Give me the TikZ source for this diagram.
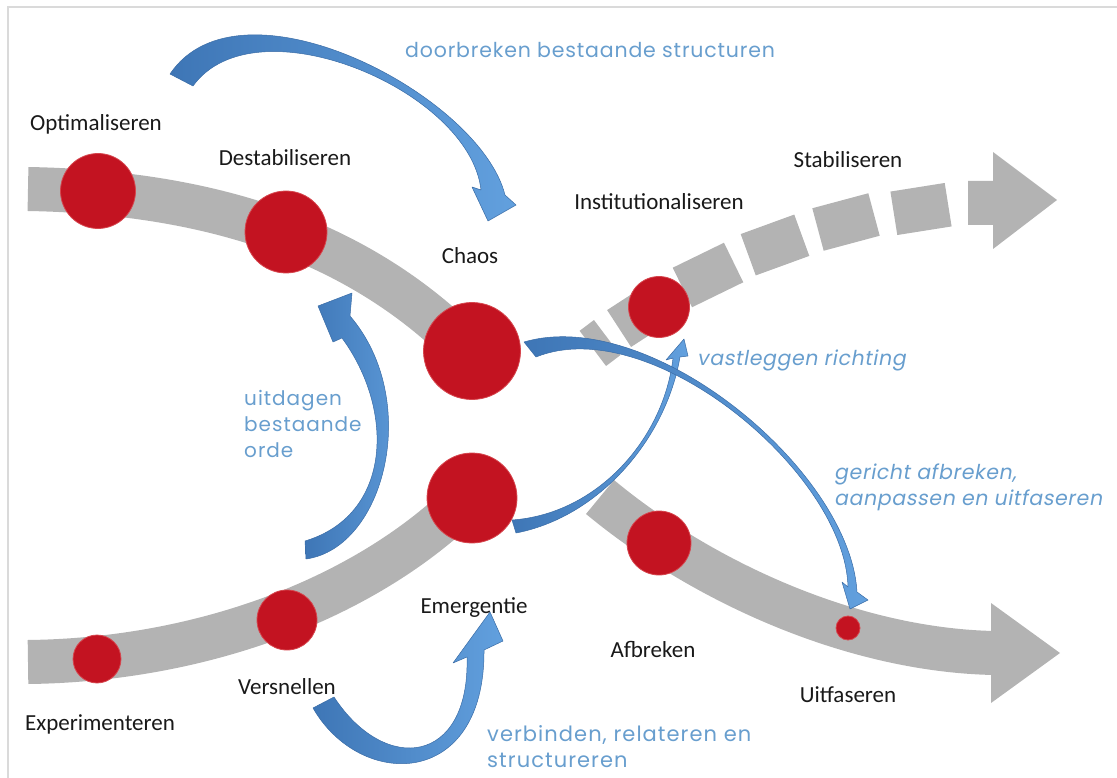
\documentclass[tikz,border=0pt]{standalone}
\usepackage{fontspec}
\setmainfont{Carlito}
\newfontfamily\bluefont{Poppins}[LetterSpace=4]
\newfontfamily\bluefontwide{Poppins}[LetterSpace=5]
\newfontfamily\bluefontsl{Poppins}[LetterSpace=3,FakeSlant=0.18]
\definecolor{bandgray}{RGB}{179,179,179}
\definecolor{dotred}{RGB}{195,19,33}
\definecolor{dotedge}{RGB}{214,70,78}
\definecolor{arrowdark}{RGB}{62,118,182}
\definecolor{arrowlight}{RGB}{98,160,222}
\definecolor{arrowedge}{RGB}{58,108,166}
\definecolor{labelblue}{RGB}{104,158,206}
\definecolor{labelblack}{RGB}{25,25,25}
\definecolor{framegray}{RGB}{218,218,218}

\begin{document}
\begin{tikzpicture}[x=1pt,y=-1pt,
  band/.style={draw=bandgray, line width=44pt},
  piece/.style={fill=bandgray, minimum height=44pt, inner sep=0pt},
  reddot/.style={circle, fill=dotred, draw=dotedge, line width=0.8pt, inner sep=0pt},
  phase/.style={font=\fontsize{23}{28}\selectfont, text=labelblack, inner sep=0pt, anchor=base},
  bluetext/.style={font=\bluefont\fontsize{20.5}{26}\selectfont, text=labelblue, inner sep=0pt, align=left},
  bluetextwide/.style={font=\bluefontwide\fontsize{#1}{26}\selectfont, text=labelblue, inner sep=0pt, align=left},
  bluetextsl/.style={font=\bluefontsl\fontsize{20.5}{26}\selectfont, text=labelblue, inner sep=0pt, align=left},
  bluearrow/.style={draw=arrowedge, line width=0.5pt, line join=round, left color=arrowdark, right color=arrowlight}]

  \useasboundingbox (0,0) rectangle (1117,778);
  \draw[framegray, line width=1.5pt] (8,778) -- (8,7) -- (1117,7);

  \draw[band] (28,189) .. controls (200,192) and (350,235) .. (462,345);
  \draw[band] (28,662) .. controls (200,660) and (360,600) .. (460,505);
  \draw[band] (600,497) .. controls (700,580) and (850,650) .. (994,653);
  \fill[bandgray] (991,603) -- (1060,653) -- (991,703) -- cycle;

  \foreach \px/\py/\ang/\len in {600/343/37/18, 643/313/33/57, 708/275/26/57,
      775/245/20/57, 846/222/15/58, 921/209/9/55}
    \node[piece, minimum width=\len pt, rotate=\ang] (piece\px) at (\px,\py) {};
  \fill[bandgray] (968,181) -- (993,181) -- (993,152) -- (1057,200) -- (993,249)
    -- (993,225) -- (968,225) -- cycle;

  \node[reddot, minimum size=75pt] (optimal) at (98,191) {};
  \node[reddot, minimum size=82pt] (destab) at (286,232) {};
  \node[reddot, minimum size=97pt] (chaos) at (472,351) {};
  \node[reddot, minimum size=90pt] (emerg) at (472,498) {};
  \node[reddot, minimum size=60pt] (versn) at (287,620) {};
  \node[reddot, minimum size=48pt] (exper) at (97,659) {};
  \node[reddot, minimum size=61pt] (instit) at (659,307) {};
  \node[reddot, minimum size=64pt] (afbrk) at (659,543) {};
  \node[reddot, minimum size=24pt] (uitf) at (848,628) {};

  \draw[bluearrow] (193,86) .. controls (255,0) and (470,90) .. (481,190) -- (472,187)
    -- (488,221) -- (516,205) -- (505,195) .. controls (480,95) and (240,-30) .. (170,74) -- cycle;
  \draw[bluearrow] (306,559) .. controls (385,548) and (422,400) .. (350,316) -- (352,293)
    -- (318,306) -- (333,342) -- (342,338) .. controls (395,410) and (392,515) .. (305,541) -- cycle;
  \draw[bluearrow] (313,708) .. controls (360,790) and (485,790) .. (484,650) -- (503,641)
    -- (490,612) -- (453,663) -- (467,657) .. controls (470,765) and (385,775) .. (334,697) -- cycle;
  \draw[bluearrow] (512,520) .. controls (598,514) and (664,438) .. (673,358) -- (666,360)
    -- (684,339) -- (688,356) -- (680,357) .. controls (666,439) and (599,517) .. (516,533) -- cycle;
  \draw[bluearrow] (524,342) .. controls (650,305) and (850,470) .. (857,592) -- (868,600)
    -- (850,609) -- (842,582) -- (848,587) .. controls (845,472) and (650,311) .. (536,357) -- cycle;

  \node[phase] (optlabel) at (96,131) {Optimaliseren};
  \node[phase] (destablabel) at (285,166) {Destabiliseren};
  \node[phase] (chaoslabel) at (470,264) {Chaos};
  \node[phase] (institlabel) at (659,210) {Institutionaliseren};
  \node[phase] (stablabel) at (848,168) {Stabiliseren};
  \node[phase] (emerglabel) at (474,613) {Emergentie};
  \node[phase] (versnlabel) at (287,694) {Versnellen};
  \node[phase] (experlabel) at (100,730) {Experimenteren};
  \node[phase] (afbrklabel) at (653,657) {Afbreken};
  \node[phase] (uitflabel) at (848,702) {Uitfaseren};

  \node[bluetext, anchor=base west] (doorbr) at (405,58) {doorbreken bestaande structuren};
  \node[bluetextwide=20, anchor=north west] (uitdag) at (244,390) {uitdagen\\bestaande\\orde};
  \node[bluetextsl, anchor=base west] (vastl) at (697,365) {vastleggen richting};
  \node[bluetextsl, anchor=north west] (gericht) at (834,464) {gericht afbreken,\\aanpassen en uitfaseren};
  \node[bluetextwide=21, anchor=north west] (verbind) at (487,725) {verbinden, relateren en\\structureren};
\end{tikzpicture}
\end{document}
